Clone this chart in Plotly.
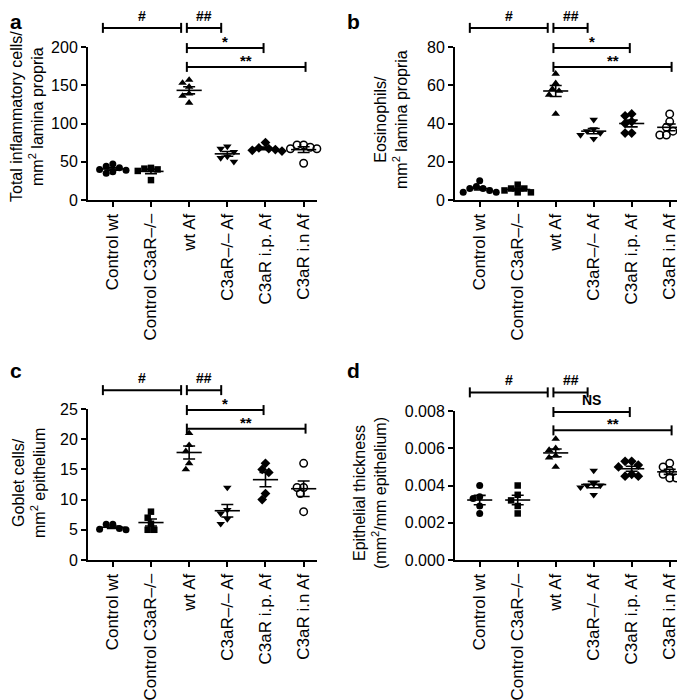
import numpy as np
import plotly.graph_objects as go

categories = ["Control wt", "Control C3aR–/–", "wt Af", "C3aR–/– Af", "C3aR i.p. Af", "C3aR i.n Af"]

# Panel a: total inflammatory cells / mm2 lamina propria
inflam_control_wt = [47, 44, 42, 40, 39, 37, 35]
inflam_control_c3ar = [42, 41, 40, 38, 26]
inflam_wt_af = [157, 153, 148, 139, 136, 127]
inflam_c3ar_af = [70, 67, 63, 57, 55, 50]
inflam_ip_af = [75, 68, 67, 66, 65, 64]
inflam_in_af = [72, 72, 69, 67, 67, 48]

# Panel b: eosinophils / mm2 lamina propria
eos_control_wt = [10, 7, 6, 6, 5, 4, 4]
eos_control_c3ar = [8, 6, 6, 5, 4, 4]
eos_wt_af = [66, 61, 58, 57, 55, 45]
eos_c3ar_af = [42, 37, 36, 35, 34, 32]
eos_ip_af = [45, 44, 41, 40, 35, 35]
eos_in_af = [45, 41, 38, 36, 34, 34]

# Panel c: goblet cells / mm2 epithelium
gob_control_wt = [5.9, 5.9, 5.2, 5.1, 5.0]
gob_control_c3ar = [8, 7, 6, 5, 5]
gob_wt_af = [21, 19, 18, 16, 15]
gob_c3ar_af = [12, 8.3, 7.7, 6.8, 6]
gob_ip_af = [16, 15, 14.5, 11, 10]
gob_in_af = [16, 12, 12, 11, 8]

# Panel d: epithelial thickness (mm2/mm epithelium)
thick_control_wt = [0.0040, 0.0034, 0.0033, 0.0029, 0.0025]
thick_control_c3ar = [0.0040, 0.0035, 0.0032, 0.0029, 0.0025]
thick_wt_af = [0.0065, 0.0060, 0.0059, 0.0056, 0.0055, 0.0050]
thick_c3ar_af = [0.0048, 0.0041, 0.0040, 0.0040, 0.0039, 0.0035]
thick_ip_af = [0.0053, 0.0053, 0.0051, 0.0050, 0.0046, 0.0045, 0.0045]
thick_in_af = [0.0052, 0.0050, 0.0048, 0.0046, 0.0044, 0.0044]

panel_a_ticks = [0, 50, 100, 150, 200]
panel_b_ticks = [0, 20, 40, 60, 80]
panel_c_ticks = [0, 5, 10, 15, 20, 25]
panel_d_ticks = [0.0, 0.002, 0.004, 0.006, 0.008]

sig_labels_abc = ["#", "##", "*", "**"]
sig_labels_d = ["#", "##", "NS", "**"]

# ---------------------------------------------------------------- styling
FONT = "Liberation Sans, Arial, Helvetica, sans-serif"
OFF = 8                      # default page-body margin of the html page
W, H = 685 - OFF, 700 - OFF
XR = [-0.65, 5.35]
symbols = [
    dict(symbol="circle", size=7, color="black"),
    dict(symbol="square", size=6.5, color="black"),
    dict(symbol="triangle-up", size=7.5, color="black"),
    dict(symbol="triangle-down", size=7.5, color="black"),
    dict(symbol="diamond", size=7.5, color="black"),
    dict(symbol="circle-open", size=7.5, color="black", line=dict(width=1.5, color="black")),
]

# pixel boxes on the page (left, right, top, bottom)
boxes = {
    "a": (88, 317, 47, 200),
    "b": (455, 683, 47, 200),
    "c": (88, 317, 409, 560),
    "d": (455, 683, 411, 560),
}

panels = [
    ("a", "x", "y", [inflam_control_wt, inflam_control_c3ar, inflam_wt_af, inflam_c3ar_af, inflam_ip_af, inflam_in_af],
     panel_a_ticks, None, ["Total inflammatory cells/", "mm<sup>2</sup> lamina propria"], 27, 117, sig_labels_abc),
    ("b", "x2", "y2", [eos_control_wt, eos_control_c3ar, eos_wt_af, eos_c3ar_af, eos_ip_af, eos_in_af],
     panel_b_ticks, None, ["Eosinophils/", "mm<sup>2</sup> lamina propria"], 391, 120, sig_labels_abc),
    ("c", "x3", "y3", [gob_control_wt, gob_control_c3ar, gob_wt_af, gob_c3ar_af, gob_ip_af, gob_in_af],
     panel_c_ticks, None, ["Goblet cells/", "mm<sup>2</sup> epithelium"], 29, 483, sig_labels_abc),
    ("d", "x4", "y4", [thick_control_wt, thick_control_c3ar, thick_wt_af, thick_c3ar_af, thick_ip_af, thick_in_af],
     panel_d_ticks, ".3f", ["Epithelial thickness", "(mm<sup>2</sup>/mm epithelium)"], 370, 493, sig_labels_d),
]

# bracket spans (in category units) and heights (fraction of y domain)
bracket_spans = [(-0.26, 1.79), (1.94, 2.84), (1.94, 3.95), (1.94, 5.05)]
bracket_levels = [1.125, 1.125, 0.993, 0.87]


def swarm(values, ymax, px_per_cat, px_h, diam=6.6):
    """simple beeswarm offsets in category units"""
    vals = np.asarray(values, dtype=float)
    order = np.argsort(-vals)
    placed = []
    offs = np.zeros(len(vals))
    step = diam / px_per_cat / 2
    cands = sorted(range(-10, 11), key=lambda j: (abs(j), j))
    for idx in order:
        ypx = vals[idx] / ymax * px_h
        xo = 0.0
        for j in cands:
            xo = j * step
            ok = True
            for (px_, py_) in placed:
                if np.hypot((xo - px_) * px_per_cat, ypx - py_) < diam:
                    ok = False
                    break
            if ok:
                break
        offs[idx] = xo
        placed.append((xo, ypx))
    return offs


def fx(px):
    return (px - OFF) / W


def fy(py):
    return 1 - (py - OFF) / H


fig = go.Figure()
layout = dict(width=W, height=H, margin=dict(l=0, r=0, t=0, b=0, autoexpand=False),
              paper_bgcolor="white", plot_bgcolor="white", showlegend=False,
              font=dict(family=FONT, color="black"))
shapes = []
annotations = []

for key, xa, ya, groups, ticks, fmt, title, tx, ty, sig in panels:
    l, r, t, b = boxes[key]
    ymax = ticks[-1]
    px_per_cat = (r - l) / (XR[1] - XR[0])
    px_h = b - t
    for i, vals in enumerate(groups):
        offs = swarm(vals, ymax, px_per_cat, px_h)
        fig.add_trace(go.Scatter(x=i + offs, y=vals, mode="markers", marker=symbols[i],
                                 xaxis=xa, yaxis=ya, cliponaxis=False, hoverinfo="y"))
        m = float(np.mean(vals))
        sem = float(np.std(vals, ddof=1) / np.sqrt(len(vals)))
        fig.add_trace(go.Scatter(x=[i - 0.33, i + 0.33], y=[m, m], mode="lines",
                                 line=dict(color="black", width=1.6), xaxis=xa, yaxis=ya,
                                 hoverinfo="skip"))
        fig.add_trace(go.Scatter(x=[i], y=[m], mode="markers",
                                 marker=dict(size=1, color="rgba(0,0,0,0)"),
                                 error_y=dict(type="data", array=[sem], color="black",
                                              thickness=1.6, width=6),
                                 xaxis=xa, yaxis=ya, hoverinfo="skip"))
    sfx = xa[1:]
    layout["xaxis" + sfx] = dict(domain=[fx(l), fx(r)], anchor=ya, range=XR, automargin=False,
                                 tickmode="array", tickvals=list(range(6)), ticktext=categories,
                                 tickangle=-90, showline=True, linecolor="black", linewidth=2,
                                 ticks="outside", ticklen=5, tickwidth=2, tickcolor="black",
                                 showgrid=False, zeroline=False,
                                 tickfont=dict(size=17, color="black", family=FONT))
    layout["yaxis" + sfx] = dict(domain=[fy(b), fy(t)], anchor=xa, range=[0, ymax],
                                 automargin=False,
                                 tickmode="array", tickvals=ticks, tickformat=fmt,
                                 showline=True, linecolor="black", linewidth=2,
                                 ticks="outside", ticklen=5, tickwidth=2, tickcolor="black",
                                 showgrid=False, zeroline=False,
                                 tickfont=dict(size=16, color="black", family=FONT))
    xref = xa + " domain"
    yref = ya + " domain"
    tick_h = 5 / px_h
    for (x0, x1), lev, lab in zip(bracket_spans, bracket_levels, sig):
        d0 = (x0 - XR[0]) / (XR[1] - XR[0])
        d1 = (x1 - XR[0]) / (XR[1] - XR[0])
        lw = dict(color="black", width=2)
        shapes.append(dict(type="line", xref=xref, yref=yref, x0=d0, x1=d1, y0=lev, y1=lev, line=lw))
        shapes.append(dict(type="line", xref=xref, yref=yref, x0=d0, x1=d0, y0=lev - tick_h, y1=lev + tick_h, line=lw))
        shapes.append(dict(type="line", xref=xref, yref=yref, x0=d1, x1=d1, y0=lev - tick_h, y1=lev + tick_h, line=lw))
        ys = -6 if "*" in lab else 0
        annotations.append(dict(xref=xref, yref=yref, x=(d0 + d1) / 2, y=lev + 2 / px_h,
                                text="<b>" + lab + "</b>", showarrow=False, xanchor="center",
                                yanchor="bottom", yshift=ys,
                                font=dict(size=14 if "*" not in lab else 15, family=FONT, color="black")))
    annotations.append(dict(xref="paper", yref="paper", x=fx(tx), y=fy(ty),
                            text="<br>".join(title), textangle=-90, showarrow=False,
                            xanchor="center", yanchor="middle",
                            font=dict(size=16, family=FONT, color="black")))
    lx = 8 if key in "ac" else 345
    ly = 8 if key in "ab" else 357
    annotations.append(dict(xref="paper", yref="paper", x=fx(lx), y=fy(ly),
                            text="<b>" + key + "</b>", showarrow=False, xanchor="left",
                            yanchor="top", font=dict(size=21, family=FONT, color="black")))

layout["shapes"] = shapes
layout["annotations"] = annotations
fig.update_layout(**layout)
fig.write_html("out.html")
